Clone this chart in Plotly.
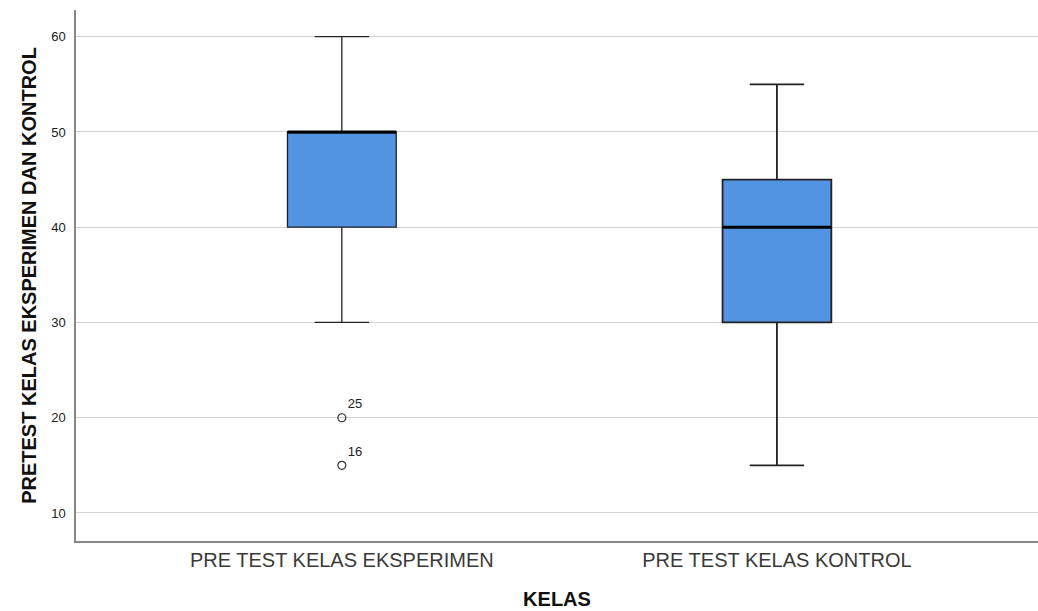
import plotly.graph_objects as go

groups = ["PRE TEST KELAS EKSPERIMEN", "PRE TEST KELAS KONTROL"]
lower = [30, 15]
q1 = [40, 30]
median = [50, 40]
q3 = [50, 45]
upper = [60, 55]
outlier_group = [0, 0]
outlier_values = [20, 15]
outlier_labels = ["25", "16"]

box_w = 0.25
fill = "#5294E2"
pos = list(range(len(groups)))

fig = go.Figure()
for i, g in enumerate(groups):
    fig.add_trace(go.Box(
        x=[pos[i]], q1=[q1[i]], median=[median[i]], q3=[q3[i]],
        lowerfence=[lower[i]], upperfence=[upper[i]],
        width=box_w, whiskerwidth=0.5,
        fillcolor=fill, line=dict(color="#222222", width=1.3 if i == 0 else 1.8),
        boxpoints=False, showlegend=False, hoverinfo="skip",
    ))
    fig.add_trace(go.Scatter(
        x=[pos[i] - box_w / 2, pos[i] + box_w / 2], y=[median[i], median[i]],
        mode="lines", line=dict(color="black", width=3),
        showlegend=False, hoverinfo="skip",
    ))

fig.add_trace(go.Scatter(
    x=[pos[g] for g in outlier_group], y=outlier_values,
    mode="markers+text", text=outlier_labels, textposition="top right",
    textfont=dict(size=13, color="#222222"),
    marker=dict(symbol="circle-open", size=8, color="#333333", line=dict(width=1.2)),
    showlegend=False, hoverinfo="skip",
))

fig.update_layout(
    width=1038, height=611,
    margin=dict(l=76, r=0, t=10, b=70),
    plot_bgcolor="white", paper_bgcolor="white",
    font=dict(family="Liberation Sans, Arial, sans-serif", color="#222222"),
    xaxis=dict(
        range=[-0.611, 1.6], tickvals=pos, ticktext=groups,
        tickfont=dict(size=20, color="#3a3a3a"), showgrid=False, zeroline=False,
        showline=True, linecolor="#888888", linewidth=1.5, ticks="",
        title=dict(text="<b>KELAS</b>", font=dict(size=20, color="#111111"), standoff=22),
    ),
    yaxis=dict(
        range=[7.06, 62.8], tickvals=[10, 20, 30, 40, 50, 60],
        tickfont=dict(size=13, color="#222222"), showgrid=True, gridcolor="#d2d2d2",
        gridwidth=1.2, zeroline=False, showline=True, linecolor="#888888", linewidth=1.5,
        ticks="", ticklabelstandoff=6,
        title=dict(text="<b>PRETEST KELAS EKSPERIMEN DAN KONTROL</b>",
                   font=dict(size=20, color="#111111"), standoff=9),
    ),
)

fig.write_html("out.html", config={"displayModeBar": False},
               post_script="document.body.style.margin = '0';")
